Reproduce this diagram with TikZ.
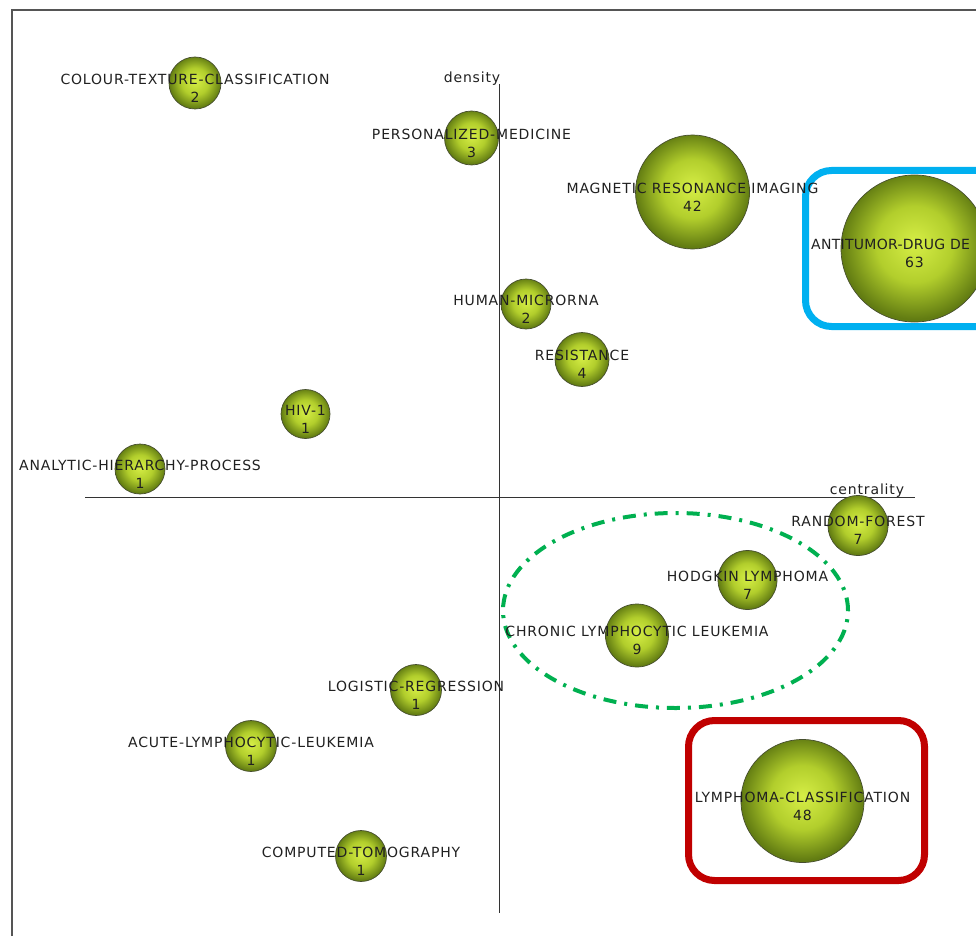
\documentclass[tikz,border=0pt]{standalone}
\usepackage{fontspec}
\setmainfont[LetterSpace=6]{DejaVu Sans}
\usepackage{tikz}
\usepackage{xcolor}
\definecolor{ballhi}{RGB}{214,238,70}
\definecolor{ballmid}{RGB}{178,206,44}
\definecolor{ballout}{RGB}{98,124,18}
\definecolor{ballrim}{RGB}{70,78,46}
\definecolor{labelgray}{RGB}{32,32,32}
\definecolor{framegray}{RGB}{85,85,85}
\definecolor{boxblue}{RGB}{0,176,240}
\definecolor{boxred}{RGB}{192,0,0}
\definecolor{ovalgreen}{RGB}{0,176,80}
\pgfdeclareradialshading{sphere}{\pgfpoint{0bp}{2bp}}{color(0bp)=(ballhi); color(13bp)=(ballmid); color(25bp)=(ballout); color(50bp)=(ballout)}
\tikzset{sphere/.style={circle,draw=ballrim,line width=0.7pt,shading=sphere,inner sep=0pt},
	theme/.style={align=center,text=labelgray,inner sep=0pt,yshift=-5pt,font=\fontsize{14}{18}\selectfont},
	axisname/.style={text=labelgray,inner sep=0pt,font=\fontsize{14}{18}\selectfont}}

\begin{document}
\begin{tikzpicture}[x=1pt,y=-1pt]
	\useasboundingbox (0,0) rectangle (976,936);
	% frame and axes
	\coordinate (F1) at (12,936);
	\coordinate (F2) at (12,10);
	\coordinate (F3) at (976,10);
	\draw[framegray,line width=1.2pt] (F1) -- (F2) -- (F3);
	\coordinate (XL) at (85,497);
	\coordinate (XR) at (915,497);
	\coordinate (YT) at (499.5,84);
	\coordinate (YB) at (499.5,913);
	\draw[black!80,line width=0.9pt] (XL) -- (XR);
	\draw[black!80,line width=0.9pt] (YT) -- (YB);
	% highlights
	\draw[boxblue,line width=7pt,rounded corners=26pt] (805.5,170.5) rectangle (1010,326.5);
	\draw[boxred,line width=7pt,rounded corners=26pt] (688.5,720.5) rectangle (924.5,880.5);
	\draw[ovalgreen,line width=4pt,dash pattern=on 13pt off 8pt on 3pt off 8pt] (675.5,610.5) ellipse [x radius=172.5pt,y radius=97.5pt];
	\begin{scope}[every node/.style={sphere}]
		\node[minimum size=52pt] (ctc) at (195,83) {};
		\node[minimum size=54pt] (pm) at (471.5,138) {};
		\node[minimum size=114pt] (mri) at (692.5,192) {};
		\node[minimum size=147pt] (adt) at (914.5,248.5) {};
		\node[minimum size=50pt] (hm) at (526,304) {};
		\node[minimum size=54pt] (res) at (582,359.5) {};
		\node[minimum size=49pt] (hiv) at (305.5,414) {};
		\node[minimum size=50pt] (ahp) at (140,469) {};
		\node[minimum size=60pt] (rf) at (858,525.5) {};
		\node[minimum size=59pt] (hl) at (747.5,580) {};
		\node[minimum size=63pt] (cll) at (637,635.5) {};
		\node[minimum size=51pt] (lr) at (416,690) {};
		\node[minimum size=51pt] (all) at (251,746) {};
		\node[minimum size=51pt] (ct) at (361,856) {};
		\node[minimum size=123pt] (lc) at (802.5,801) {};
	\end{scope}
	\begin{scope}[every node/.style={theme}]
		\node (ctcT) at (ctc) {COLOUR-TEXTURE-CLASSIFICATION\\2};
		\node (pmT) at (pm) {PERSONALIZED-MEDICINE\\3};
		\node (mriT) at (mri) {MAGNETIC RESONANCE IMAGING\\42};
		\node[anchor=west,yshift=5pt,font=\fontsize{14}{18}\selectfont\addfontfeature{LetterSpace=2}] (adtT) at (811,244) {ANTITUMOR-DRUG DE};
		\node[yshift=5pt] (adtN) at (914.5,262) {63};
		\node (hmT) at (hm) {HUMAN-MICRORNA\\2};
		\node (resT) at (res) {RESISTANCE\\4};
		\node (hivT) at (hiv) {HIV-1\\1};
		\node (ahpT) at (ahp) {ANALYTIC-HIERARCHY-PROCESS\\1};
		\node (rfT) at (rf) {RANDOM-FOREST\\7};
		\node (hlT) at (hl) {HODGKIN LYMPHOMA\\7};
		\node (cllT) at (cll) {CHRONIC LYMPHOCYTIC LEUKEMIA\\9};
		\node (lrT) at (lr) {LOGISTIC-REGRESSION\\1};
		\node (allT) at (all) {ACUTE-LYMPHOCYTIC-LEUKEMIA\\1};
		\node (ctT) at (ct) {COMPUTED-TOMOGRAPHY\\1};
		\node (lcT) at (lc) {LYMPHOMA-CLASSIFICATION\\48};
	\end{scope}
	\node[axisname] (density) at (472,79) {density};
	\node[axisname] (centrality) at (867,491) {centrality};
\end{tikzpicture}
\end{document}
